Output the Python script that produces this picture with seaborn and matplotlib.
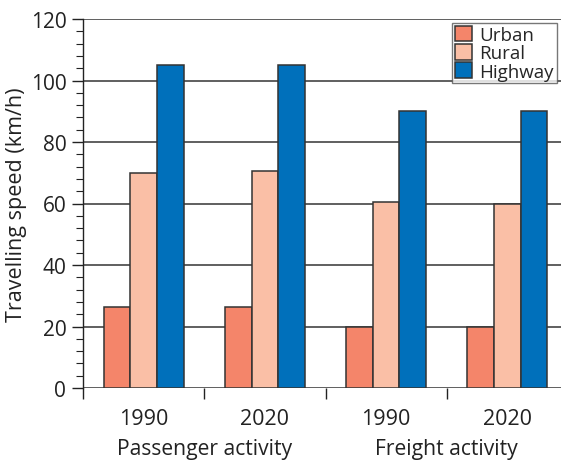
import pandas as pd
import seaborn as sns
import matplotlib.pyplot as plt
from matplotlib.ticker import MultipleLocator

# Data
groups = ['P1990', 'P2020', 'F1990', 'F2020']
year_labels = ['1990', '2020', '1990', '2020']
activity_labels = ['Passenger activity', 'Freight activity']
urban = [26.5, 26.5, 20, 20]
rural = [70, 70.5, 60.5, 60]
highway = [105, 105, 90, 90]

colors = {'Urban': '#F4856A', 'Rural': '#FABFA6', 'Highway': '#0070BB'}


def main():
    sns.set_style('white')
    plt.rcParams['font.family'] = ['Open Sans', 'DejaVu Sans']

    df = pd.DataFrame({
        'group': groups * 3,
        'type': ['Urban'] * 4 + ['Rural'] * 4 + ['Highway'] * 4,
        'speed': urban + rural + highway,
    })

    fig = plt.figure(figsize=(5.61, 4.64), dpi=100)
    ax = fig.add_axes([83 / 561, 75 / 464, 485 / 561, 369 / 464])

    sns.barplot(data=df, x='group', y='speed', hue='type', palette=colors,
                width=0.66, edgecolor='#333333', linewidth=1.1, saturation=1,
                ax=ax, zorder=3)

    # Axis styling
    ax.set_ylim(0, 120)
    ax.set_xlim(-0.5, 3.5)
    ax.yaxis.set_major_locator(MultipleLocator(20))
    ax.yaxis.set_minor_locator(MultipleLocator(4))
    ax.grid(axis='y', color='#444444', linewidth=1.2, zorder=0)
    ax.set_axisbelow(True)
    for side in ['top', 'right', 'bottom']:
        ax.spines[side].set_visible(False)
    ax.spines['left'].set_color('#222222')
    ax.spines['left'].set_linewidth(1.0)

    ax.tick_params(axis='y', which='major', direction='out', length=8,
                   width=1.0, color='#222222', labelsize=15,
                   labelcolor='#222222', left=True, pad=4)
    ax.tick_params(axis='y', which='minor', direction='out', length=5,
                   width=0.8, color='#222222', left=True)

    # x ticks at group boundaries, labels at group centers
    ax.set_xticks([-0.5, 0.5, 1.5, 2.5])
    ax.set_xticklabels([])
    ax.tick_params(axis='x', direction='out', length=8, width=1.0,
                   color='#222222', bottom=True)
    for i, lab in enumerate(year_labels):
        ax.text(i, -9.8, lab, ha='center', va='center', fontsize=15.5,
                color='#222222')
    ax.text(0.5, -19.8, activity_labels[0], ha='center', va='center',
            fontsize=15.2, color='#222222')
    ax.text(2.5, -19.8, activity_labels[1], ha='center', va='center',
            fontsize=15.2, color='#222222')

    ax.set_xlabel('')
    ax.set_ylabel('Travelling speed (km/h)', fontsize=15.5, color='#222222',
                  va='center')
    ax.yaxis.set_label_coords(-66 / 485, 0.5)

    leg = ax.legend(loc='upper left', bbox_to_anchor=((452 - 83) / 485, 0.989),
                    fontsize=13.5, frameon=True, fancybox=False,
                    handlelength=0.9, handleheight=0.9, handletextpad=0.4,
                    borderpad=0.15, labelspacing=0.0, borderaxespad=0)
    leg.get_frame().set_edgecolor('#555555')
    leg.get_frame().set_linewidth(1.0)
    leg.set_zorder(5)

    fig.savefig('out.png', dpi=100)


if __name__ == '__main__':
    main()
